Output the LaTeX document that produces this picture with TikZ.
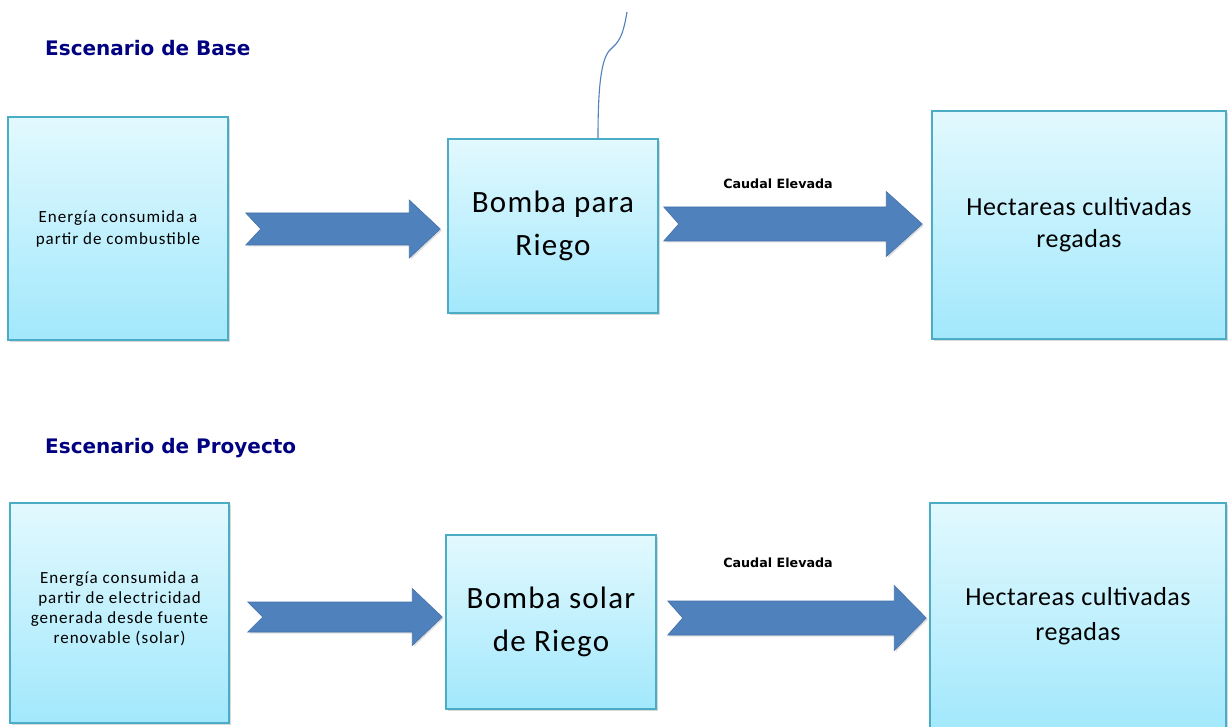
\documentclass[tikz,border=0pt]{standalone}
\usepackage{fontspec}
\setmainfont{Carlito}
\newfontfamily\titlefont{DejaVu Sans}
\newfontfamily\fontA{Carlito}[LetterSpace=6]
\newfontfamily\fontB{Carlito}[LetterSpace=4]
\newfontfamily\fontC{Carlito}[LetterSpace=2]
\usetikzlibrary{calc,shadows}
\definecolor{boxtop}{RGB}{226,249,254}
\definecolor{boxbot}{RGB}{162,232,252}
\definecolor{boxline}{RGB}{75,172,198}
\definecolor{arrfill}{RGB}{79,129,189}
\definecolor{arrline}{RGB}{70,114,170}
\definecolor{navy}{RGB}{0,0,128}
\tikzset{
  box/.style={rectangle, draw=boxline, line width=1.5pt, top color=boxtop, bottom color=boxbot,
    inner sep=0pt, align=center,
    drop shadow={shadow xshift=2pt, shadow yshift=-2pt, opacity=0.3}},
  smalltext/.style={font=\fontA\fontsize{17}{22}\selectfont},
  bigtext/.style={font=\fontB\fontsize{31}{43}\selectfont},
  midtext/.style={font=\fontC\fontsize{26}{32}\selectfont},
  title/.style={font=\titlefont\bfseries\fontsize{20}{24}\selectfont, text=navy, inner sep=0pt, anchor=west},
  lab/.style={font=\titlefont\bfseries\fontsize{12.7}{14}\selectfont, inner sep=0pt},
  arrowshape/.style={fill=arrfill, draw=arrline, line width=0.6pt,
    drop shadow={shadow xshift=1.5pt, shadow yshift=-1.5pt, opacity=0.25}},
  curveline/.style={draw=arrfill, line width=1.1pt}
}
% #1 tail coordinate, #2 tip coordinate, #3 body half height, #4 head half height, #5 head length, #6 notch depth
\newcommand\blockarrow[6]{%
  \path[arrowshape] let \p1=(#1), \p2=(#2) in
    (\x1,\y2+#3pt) -- (\x2-#5pt,\y2+#3pt) -- (\x2-#5pt,\y2+#4pt) -- (\x2,\y2)
    -- (\x2-#5pt,\y2-#4pt) -- (\x2-#5pt,\y2-#3pt) -- (\x1,\y2-#3pt) -- (\x1+#6pt,\y2) -- cycle;}
\begin{document}
\begin{tikzpicture}[x=1pt, y=-1pt]
\useasboundingbox (0,0) rectangle (1228,727);
\fill[white] (0,0) rectangle (1228,727);
\clip (0,0) rectangle (1228,727);

% titles
\node[title] (s1) at (45,48) {Escenario de Base};
\node[title] (s2) at (45,448) {Escenario de Proyecto};

% top row
\node[box, smalltext, minimum width=220pt, minimum height=223pt] (b1) at (118,228.5)
  {Energía consumida a\\partir de combustible};
\node[box, bigtext, minimum width=210pt, minimum height=174pt] (b2) at (553,226)
  {Bomba para\\Riego};
\node[box, midtext, minimum width=294pt, minimum height=228pt] (b3) at (1079,225)
  {Hectareas cultivadas\\regadas};

% bottom row
\node[box, minimum width=219pt, minimum height=220pt] (b4) at (119.5,613) {};
\node[align=center, inner sep=0pt, font=\fontA\fontsize{17}{20}\selectfont] (t4) at (119.5,608.5)
  {Energía consumida a\\partir de electricidad\\generada desde fuente\\renovable (solar)};
\node[box, bigtext, minimum width=210pt, minimum height=174pt] (b5) at (551,622)
  {Bomba solar\\de Riego};
\node[box, midtext, minimum width=296pt, minimum height=226pt, font=\fontC\fontsize{26}{35}\selectfont] (b6) at (1078,616)
  {Hectareas cultivadas\\regadas};

% arrows
\coordinate (a1s) at ([xshift=17pt]b1.east);
\coordinate (a1e) at ([xshift=-7pt, yshift=-3pt]b2.west);
\blockarrow{a1s}{a1e}{16}{29}{31}{15}
\coordinate (a2s) at ([xshift=5pt]b2.east);
\coordinate (a2e) at ([xshift=-9pt, yshift=1pt]b3.west);
\blockarrow{a2s}{a2e}{17}{32.5}{36}{15}
\coordinate (a3s) at ([xshift=18pt]b4.east);
\coordinate (a3e) at ([xshift=-3pt, yshift=5pt]b5.west);
\blockarrow{a3s}{a3e}{15}{28.5}{30}{15}
\coordinate (a4s) at ([xshift=11pt]b5.east);
\coordinate (a4e) at ([xshift=-3pt, yshift=-2pt]b6.west);
\blockarrow{a4s}{a4e}{17}{32.5}{32}{15}

% labels
\node[lab] (l1) at (778,184) {Caudal Elevada};
\node[lab] (l2) at (778,563) {Caudal Elevada};

% curve from pump
\coordinate (ctop) at (627,12);
\draw[curveline] ([xshift=45pt]b2.north) .. controls (598,95) and (600,62) .. (609,51)
  -- (613,47) .. controls (621,40) and (624,30) .. (ctop);
\end{tikzpicture}
\end{document}
